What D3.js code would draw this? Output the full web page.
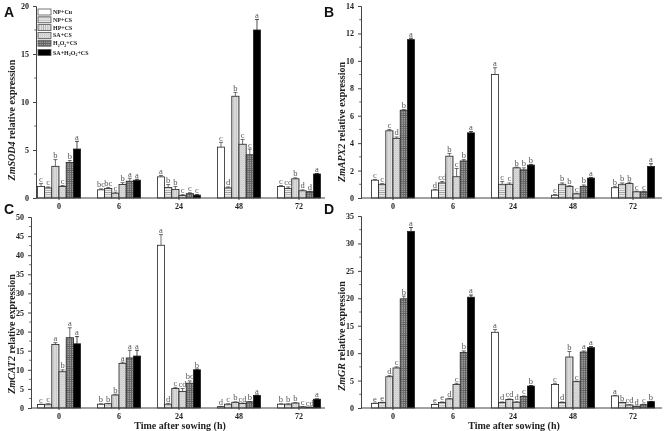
<!DOCTYPE html>
<html>
<head>
<meta charset="utf-8">
<script src="https://cdn.jsdelivr.net/npm/d3@7"></script>
<style>
  body { margin: 0; background: #fff; }
  svg { display: block; will-change: transform; }
  text { font-family: "Liberation Serif", "DejaVu Serif", serif; }
  text.tag { font-family: "Liberation Sans", Arial, sans-serif; }
</style>
</head>
<body>
<div id="chart"></div>
<script>
// times after sowing (h) and treatments
const times = ["0", "6", "24", "48", "72"];
const treatments = ["NP+Cu", "NP+CS", "HP+CS", "SA+CS", "H2O2+CS", "SA+H2O2+CS"];

// ZmSOD4 (rows = time, cols = treatment)
const sod4Values = [
    [1.2, 1.05, 3.3, 1.2, 3.7, 5.1],
    [0.85, 1.0, 0.5, 1.4, 1.75, 1.85],
    [2.2, 1.1, 0.9, 0.25, 0.45, 0.3],
    [5.3, 1.05, 10.6, 5.6, 4.5, 17.5],
    [1.2, 1.0, 2.0, 0.75, 0.65, 2.5]
];
const sod4Errors = [
    [0.3, 0.1, 0.7, 0.1, 0.2, 0.8],
    [0.1, 0.1, 0.1, 0.2, 0.3, 0.1],
    [0.15, 0.3, 0.3, 0.1, 0.1, 0.05],
    [0.5, 0.1, 0.4, 0.5, 0.6, 1.1],
    [0.1, 0.15, 0.1, 0.1, 0.05, 0.05]
];
const sod4Letters = [
    ["c", "c", "b", "c", "b", "a"],
    ["bc", "bc", "c", "b", "a", "a"],
    ["a", "b", "b", "c", "c", "c"],
    ["c", "d", "b", "c", "c", "a"],
    ["c", "cd", "b", "d", "d", "a"]
];

// ZmAPX2
const apx2Values = [
    [1.3, 1.0, 4.9, 4.35, 6.4, 11.55],
    [0.58, 1.1, 3.05, 1.55, 2.7, 4.75],
    [9.0, 1.0, 1.0, 2.2, 2.05, 2.4],
    [0.2, 1.0, 0.85, 0.3, 0.85, 1.45],
    [0.75, 1.0, 1.05, 0.45, 0.45, 2.3]
];
const apx2Errors = [
    [0.05, 0.05, 0.1, 0.1, 0.05, 0.1],
    [0.05, 0.1, 0.2, 0.6, 0.1, 0.1],
    [0.5, 0.2, 0.1, 0.05, 0.15, 0.05],
    [0.05, 0.1, 0.05, 0.05, 0.1, 0.05],
    [0.1, 0.1, 0.1, 0.05, 0.05, 0.2]
];
const apx2Letters = [
    ["c", "c", "c", "d", "b", "a"],
    ["d", "cd", "b", "c", "b", "a"],
    ["a", "c", "c", "b", "b", "b"],
    ["c", "b", "b", "c", "b", "a"],
    ["b", "b", "b", "c", "c", "a"]
];

// ZmCAT2
const cat2Values = [
    [0.9, 1.0, 16.6, 9.5, 18.4, 16.8],
    [1.0, 1.1, 3.4, 11.7, 13.1, 13.6],
    [42.6, 1.0, 5.1, 4.3, 6.5, 10.0],
    [0.35, 1.0, 1.5, 1.2, 1.6, 3.3],
    [1.0, 1.0, 1.3, 0.3, 0.2, 2.3]
];
const cat2Errors = [
    [0.1, 0.1, 0.5, 0.5, 2.6, 1.9],
    [0.1, 0.1, 0.2, 0.3, 2.0, 1.5],
    [2.8, 0.2, 0.3, 0.8, 0.6, 0.2],
    [0.05, 0.1, 0.1, 0.1, 0.1, 0.1],
    [0.1, 0.1, 0.1, 0.05, 0.05, 0.1]
];
const cat2Letters = [
    ["c", "c", "a", "b", "a", "a"],
    ["b", "b", "b", "a", "a", "a"],
    ["a", "d", "c", "cd", "bc", "b"],
    ["d", "c", "b", "cd", "b", "a"],
    ["b", "b", "b", "c", "cd", "a"]
];

// ZmGR
const grValues = [
    [0.85, 1.0, 5.7, 7.3, 19.9, 32.2],
    [0.65, 1.0, 1.65, 4.3, 10.1, 20.2],
    [13.8, 1.0, 1.55, 1.05, 2.1, 4.0],
    [4.3, 1.0, 9.3, 4.8, 10.2, 11.0],
    [2.2, 1.0, 0.55, 0.3, 0.6, 1.15]
];
const grErrors = [
    [0.05, 0.05, 0.2, 0.2, 0.5, 0.7],
    [0.05, 0.1, 0.1, 0.2, 0.3, 0.4],
    [0.5, 0.1, 0.1, 0.1, 0.1, 0.1],
    [0.2, 0.1, 1.0, 0.1, 0.2, 0.2],
    [0.1, 0.05, 0.05, 0.05, 0.1, 0.05]
];
const grLetters = [
    ["e", "e", "d", "c", "b", "a"],
    ["e", "e", "d", "c", "b", "a"],
    ["a", "d", "cd", "d", "c", "b"],
    ["c", "d", "b", "c", "a", "a"],
    ["a", "b", "cd", "d", "c", "b"]
];

const W = 666, H = 431;

const svg = d3.select("#chart")
    .append("svg")
    .attr("width", W)
    .attr("height", H);

// fill patterns for the treatments
const defs = svg.append("defs");

function stripes(id, bg, stroke, horiz, vert) {
    const p = defs.append("pattern")
        .attr("id", id)
        .attr("patternUnits", "userSpaceOnUse")
        .attr("width", 2.2)
        .attr("height", 2.2);
    p.append("rect").attr("width", 2.2).attr("height", 2.2).attr("fill", bg);
    if (horiz) p.append("line").attr("x1", 0).attr("x2", 2.2).attr("y1", 1.1).attr("y2", 1.1)
        .attr("stroke", stroke).attr("stroke-width", 0.7);
    if (vert) p.append("line").attr("y1", 0).attr("y2", 2.2).attr("x1", 1.1).attr("x2", 1.1)
        .attr("stroke", stroke).attr("stroke-width", 0.7);
}
stripes("pNPCS", "#ececec", "#9a9a9a", true, false);
stripes("pHPCS", "#e2e2e2", "#a8a8a8", false, true);
stripes("pH2O2", "#9c9c9c", "#5e5e5e", true, true);

const dots = defs.append("pattern")
    .attr("id", "pSA")
    .attr("patternUnits", "userSpaceOnUse")
    .attr("width", 2)
    .attr("height", 2);
dots.append("rect").attr("width", 2).attr("height", 2).attr("fill", "#efefef");
dots.append("rect").attr("width", 1).attr("height", 1).attr("fill", "#b0b0b0");
dots.append("rect").attr("x", 1).attr("y", 1).attr("width", 1).attr("height", 1).attr("fill", "#c4c4c4");

const fills = ["#ffffff", "url(#pNPCS)", "url(#pHPCS)", "url(#pSA)", "url(#pH2O2)", "#000000"];

const panels = [
    { letter: "A", gene: "ZmSOD4", values: sod4Values, errors: sod4Errors, letters: sod4Letters,
      left: 36, right: 325, top: 6, bottom: 198, max: 20, step: 5, x0: 29, titleY: 120, tag: [4, 17], xlabel: false },
    { letter: "B", gene: "ZmAPX2", values: apx2Values, errors: apx2Errors, letters: apx2Letters,
      left: 361, right: 662, top: 6, bottom: 198, max: 14, step: 2, x0: 363, titleY: 122, tag: [324, 17], xlabel: false },
    { letter: "C", gene: "ZmCAT2", values: cat2Values, errors: cat2Errors, letters: cat2Letters,
      left: 31, right: 325, top: 217, bottom: 408, max: 50, step: 5, x0: 29, titleY: 334, tag: [4, 214], xlabel: true },
    { letter: "D", gene: "ZmGR", values: grValues, errors: grErrors, letters: grLetters,
      left: 361, right: 662, top: 216, bottom: 408, max: 35, step: 5, x0: 363, titleY: 336, tag: [324, 214], xlabel: true }
];

panels.forEach(drawPanel);

function drawPanel(p) {
    const g = svg.append("g");

    const x = d3.scaleBand()
        .domain(times)
        .range([p.x0, p.x0 + 300])
        .paddingInner(0.28)
        .paddingOuter(0.14);

    const xs = d3.scaleBand()
        .domain(treatments)
        .range([0, x.bandwidth()]);

    const y = d3.scaleLinear()
        .domain([0, p.max])
        .range([p.bottom, p.top]);

    // bars
    const groups = g.selectAll("g.grp")
        .data(p.values)
        .enter()
        .append("g")
        .attr("class", "grp")
        .attr("transform", (d, i) => `translate(${x(times[i])},0)`);

    groups.each(function (row, i) {
        const grp = d3.select(this);
        const items = row.map((v, j) => ({ v, j, e: p.errors[i][j], l: p.letters[i][j] }));

        grp.selectAll("rect")
            .data(items)
            .enter()
            .append("rect")
            .attr("x", d => xs(treatments[d.j]))
            .attr("y", d => y(d.v))
            .attr("width", xs.bandwidth())
            .attr("height", d => y(0) - y(d.v))
            .attr("fill", d => fills[d.j])
            .attr("stroke", "#222")
            .attr("stroke-width", 0.8);

        // error bars (upper only)
        const eb = grp.selectAll("g.err")
            .data(items)
            .enter()
            .append("g")
            .attr("class", "err")
            .attr("stroke", d => d.j === 5 ? "#000" : "#333")
            .attr("stroke-width", 0.7);
        eb.append("line")
            .attr("x1", d => xs(treatments[d.j]) + xs.bandwidth() / 2)
            .attr("x2", d => xs(treatments[d.j]) + xs.bandwidth() / 2)
            .attr("y1", d => y(d.v))
            .attr("y2", d => y(d.v + d.e));
        eb.append("line")
            .attr("x1", d => xs(treatments[d.j]) + xs.bandwidth() / 2 - 2)
            .attr("x2", d => xs(treatments[d.j]) + xs.bandwidth() / 2 + 2)
            .attr("y1", d => y(d.v + d.e))
            .attr("y2", d => y(d.v + d.e));

        // significance letters
        grp.selectAll("text.sig")
            .data(items)
            .enter()
            .append("text")
            .attr("class", "sig")
            .attr("x", d => xs(treatments[d.j]) + xs.bandwidth() / 2)
            .attr("y", d => y(d.v + d.e) - 1.5)
            .attr("text-anchor", "middle")
            .attr("font-size", 8.5)
            .attr("fill", "#555")
            .text(d => d.l);
    });

    // y axis
    const yAxis = g.append("g")
        .attr("transform", `translate(${p.left},0)`)
        .call(d3.axisLeft(y)
            .tickValues(d3.range(0, p.max + 0.001, p.step))
            .tickSize(3)
            .tickPadding(4));
    yAxis.select(".domain").attr("stroke", "#444");
    yAxis.selectAll(".tick line").attr("stroke", "#444");
    yAxis.selectAll("text")
        .attr("font-family", "Liberation Serif, serif")
        .attr("font-weight", "bold")
        .attr("font-size", 8)
        .attr("fill", "#222");

    // minor ticks
    g.append("g")
        .selectAll("line")
        .data(d3.range(p.step / 2, p.max, p.step))
        .enter()
        .append("line")
        .attr("x1", p.left - 1.8)
        .attr("x2", p.left)
        .attr("y1", d => y(d))
        .attr("y2", d => y(d))
        .attr("stroke", "#444")
        .attr("stroke-width", 0.8);

    // x axis
    const xAxis = g.append("g")
        .attr("transform", `translate(0,${p.bottom})`)
        .call(d3.axisBottom(x).tickSize(2).tickPadding(3).tickSizeOuter(0));
    xAxis.select(".domain").remove();
    xAxis.append("line")
        .attr("x1", p.left)
        .attr("x2", p.right)
        .attr("stroke", "#444");
    xAxis.selectAll(".tick line").attr("stroke", "#444");
    xAxis.selectAll("text")
        .attr("font-family", "Liberation Serif, serif")
        .attr("font-weight", "bold")
        .attr("font-size", 8)
        .attr("fill", "#222");

    // y title
    const title = g.append("text")
        .attr("transform", `translate(${p.left < 100 ? 15 : 345},${p.titleY}) rotate(-90)`)
        .attr("text-anchor", "middle")
        .attr("font-size", 10)
        .attr("font-weight", "bold")
        .attr("fill", "#222");
    title.append("tspan").attr("font-style", "italic").text(p.gene);
    title.append("tspan").text(" relative expression");

    if (p.xlabel) {
        g.append("text")
            .attr("x", (x(times[0]) + x(times[4]) + x.bandwidth()) / 2 + 1)
            .attr("y", 429)
            .attr("text-anchor", "middle")
            .attr("font-size", 10)
            .attr("font-weight", "bold")
            .attr("fill", "#222")
            .text("Time after sowing (h)");
    }

    // panel tag
    g.append("text")
        .attr("class", "tag")
        .attr("x", p.tag[0])
        .attr("y", p.tag[1])
        .attr("font-weight", "bold")
        .attr("font-size", 14)
        .attr("fill", "#111")
        .text(p.letter);
}

// legend in panel A
const legend = svg.append("g").attr("transform", "translate(38,9)");
const rowY = d3.scalePoint().domain(treatments).range([0, 39]);

const lg = legend.selectAll("g")
    .data(treatments)
    .enter()
    .append("g")
    .attr("transform", d => `translate(0,${rowY(d) + (d === "SA+H2O2+CS" ? 1.5 : 0)})`);

lg.append("rect")
    .attr("width", 13)
    .attr("height", 6)
    .attr("fill", (d, i) => fills[i])
    .attr("stroke", "#555")
    .attr("stroke-width", 0.8);

lg.append("text")
    .attr("x", 15)
    .attr("y", 5)
    .attr("font-size", 6)
    .attr("font-weight", "bold")
    .attr("fill", "#222")
    .each(function (d) {
        const t = d3.select(this);
        if (d.includes("H2O2")) {
            const pre = d.startsWith("SA") ? "SA+H" : "H";
            t.append("tspan").text(pre);
            t.append("tspan").attr("font-size", 4).attr("dy", 1.5).text("2");
            t.append("tspan").attr("dy", -1.5).text("O");
            t.append("tspan").attr("font-size", 4).attr("dy", 1.5).text("2");
            t.append("tspan").attr("dy", -1.5).text("+CS");
        } else {
            t.text(d);
        }
    });
</script>
</body>
</html>
